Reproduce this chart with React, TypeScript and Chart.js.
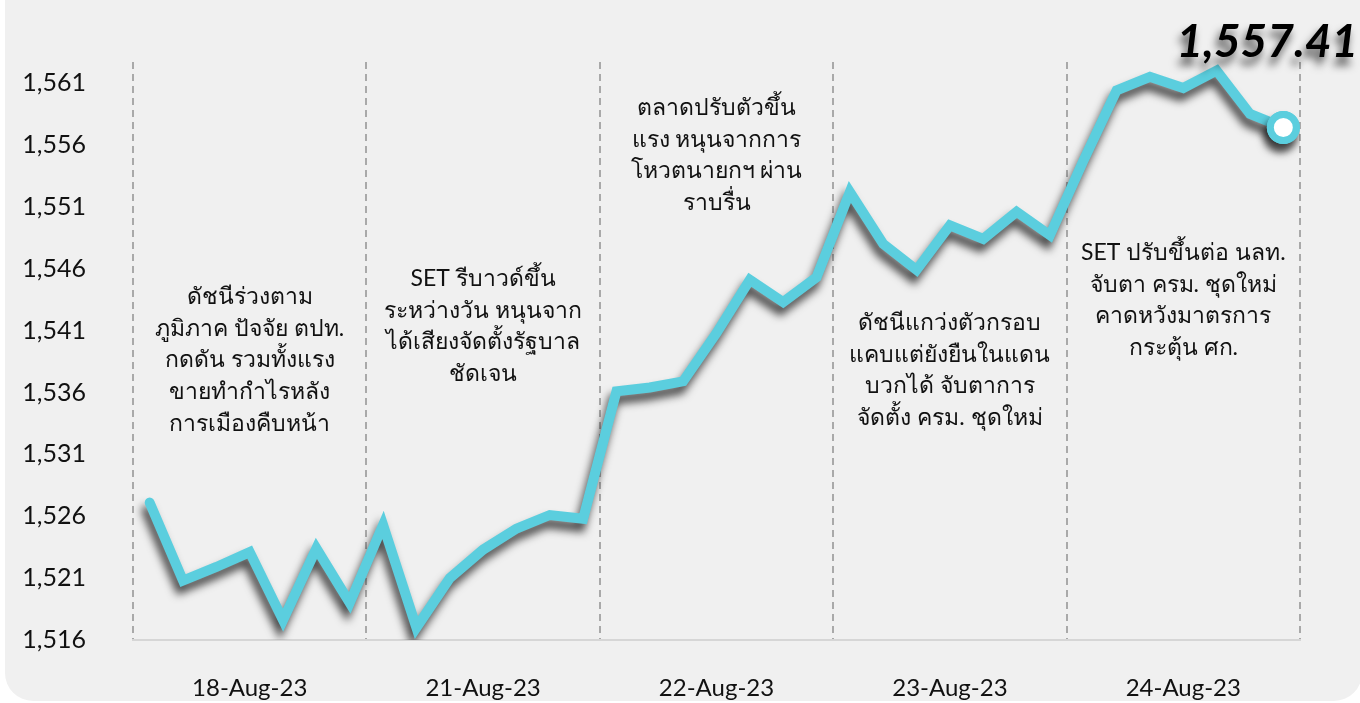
import { useEffect, useRef } from 'react';
import { Chart, registerables } from 'chart.js';

Chart.register(...registerables);

const days = ['18-Aug-23', '21-Aug-23', '22-Aug-23', '23-Aug-23', '24-Aug-23'];
const pointsPerDay = 7;
const setIndex = [
  1527.1, 1520.8, 1521.9, 1523.1, 1517.6, 1523.4, 1519.0,
  1525.3, 1517.0, 1521.0, 1523.3, 1525.0, 1526.1, 1525.8,
  1536.1, 1536.4, 1536.9, 1540.8, 1545.1, 1543.3, 1545.3,
  1552.2, 1548.0, 1545.9, 1549.5, 1548.4, 1550.6, 1548.7,
  1554.7, 1560.4, 1561.5, 1560.6, 1562.0, 1558.5, 1557.41,
];
const yTicks = [1516, 1521, 1526, 1531, 1536, 1541, 1546, 1551, 1556, 1561];
const lastLabel = '1,557.41';
const notes = [
  ['ดัชนีร่วงตาม', 'ภูมิภาค ปัจจัย ตปท.', 'กดดัน รวมทั้งแรง', 'ขายทำกำไรหลัง', 'การเมืองคืบหน้า'],
  ['SET รีบาวด์ขึ้น', 'ระหว่างวัน หนุนจาก', 'ได้เสียงจัดตั้งรัฐบาล', 'ชัดเจน'],
  ['ตลาดปรับตัวขึ้น', 'แรง หนุนจากการ', 'โหวตนายกฯ ผ่าน', 'ราบรื่น'],
  ['ดัชนีแกว่งตัวกรอบ', 'แคบแต่ยังยืนในแดน', 'บวกได้ จับตาการ', 'จัดตั้ง ครม. ชุดใหม่'],
  ['SET ปรับขึ้นต่อ นลท.', 'จับตา ครม. ชุดใหม่', 'คาดหวังมาตรการ', 'กระตุ้น ศก.'],
];

// layout (pixel offsets of first note line below the chart-area top)
const noteTop = [235, 217, 46, 261, 191];
const FONT = "'Century Gothic', Lato, 'Noto Sans', sans-serif";
const LINE = 'rgb(91, 206, 222)';

export default function App() {
  const ref = useRef<HTMLCanvasElement>(null);

  useEffect(() => {
    document.body.style.margin = '0';
    const shadowPlugin = {
      id: 'lineShadow',
      beforeDatasetsDraw(chart: any) {
        const { ctx } = chart;
        ctx.save();
        ctx.shadowColor = 'rgba(0,0,0,0.7)';
        ctx.shadowBlur = 9;
        ctx.shadowOffsetX = -3;
        ctx.shadowOffsetY = 8;
      },
      afterDatasetsDraw(chart: any) {
        const { ctx } = chart;
        ctx.restore();
        // redraw the end marker on top without shadow
        const meta = chart.getDatasetMeta(0);
        const pt = meta.data[meta.data.length - 1];
        pt.draw(ctx, chart.chartArea);
      },
    };
    const notesPlugin = {
      id: 'notes',
      beforeDatasetsDraw(chart: any) {
        const { ctx, chartArea } = chart;
        const xs = chart.scales.x;
        ctx.save();
        ctx.fillStyle = '#111';
        ctx.font = `23px ${FONT}`;
        ctx.textAlign = 'center';
        ctx.textBaseline = 'alphabetic';
        notes.forEach((lines, d) => {
          const cx = xs.getPixelForValue(d);
          lines.forEach((t, i) => {
            ctx.fillText(t, cx, chartArea.top + noteTop[d] + i * 31.7 + 7);
          });
        });
        ctx.restore();
      },
      afterDatasetsDraw(chart: any) {
        const { ctx } = chart;
        const meta = chart.getDatasetMeta(0);
        const pt = meta.data[meta.data.length - 1];
        ctx.save();
        ctx.fillStyle = '#000';
        ctx.font = `italic bold 46px ${FONT}`;
        ctx.textAlign = 'center';
        ctx.textBaseline = 'alphabetic';
        ctx.fillText(lastLabel, pt.x - 16, pt.y - 70);
        ctx.restore();
      },
    };

    const last = setIndex.length - 1;
    const chart = new Chart(ref.current!, {
      type: 'line',
      data: {
        labels: days,
        datasets: [
          {
            data: setIndex.map((v, i) => ({ x: i + 0.5, y: v })),
            xAxisID: 'xd',
            yAxisID: 'y',
            borderColor: LINE,
            borderWidth: 10,
            borderCapStyle: 'round',
            borderJoinStyle: 'miter',
            tension: 0,
            pointRadius: (c: any) => (c.dataIndex === last ? 13 : 0),
            pointHoverRadius: 0,
            pointBackgroundColor: '#ffffff',
            pointBorderColor: LINE,
            pointBorderWidth: 7,
          },
        ],
      },
      options: {
        animation: false,
        responsive: false,
        devicePixelRatio: 1,
        layout: { padding: { top: 62, right: 60, left: 0, bottom: 0 } },
        plugins: { legend: { display: false }, tooltip: { enabled: false } },
        scales: {
          x: {
            type: 'category',
            labels: days,
            offset: true,
            grid: { offset: true, color: '#a9a9a9', lineWidth: 2, drawTicks: false },
            border: { display: true, color: '#d6d6d6', width: 2, dash: [7, 5] },
            ticks: { padding: 34, color: '#111', font: { family: FONT, size: 24 } },
            afterFit: (s: any) => {
              s.height = 63;
            },
          },
          xd: {
            type: 'linear',
            display: false,
            min: 0,
            max: days.length * pointsPerDay,
          },
          y: {
            min: 1516,
            max: 1562.7,
            grid: { display: false, drawTicks: false },
            border: { display: false },
            afterBuildTicks: (s: any) => {
              s.ticks = yTicks.map((v) => ({ value: v }));
            },
            ticks: {
              padding: 47,
              color: '#111',
              font: { family: FONT, size: 25 },
              callback: (v: any) => Number(v).toLocaleString('en-US'),
            },
            afterFit: (s: any) => {
              s.width = 133;
            },
          },
        },
      },
      plugins: [notesPlugin, shadowPlugin],
    } as any);
    return () => chart.destroy();
  }, []);

  return (
    <div style={{ position: 'relative', width: 1360, height: 703, overflow: 'hidden', background: '#ffffff' }}>
      <div
        style={{
          position: 'absolute',
          left: 5,
          top: -40,
          width: 1357,
          height: 741,
          background: '#f0f0f0',
          borderRadius: 28,
        }}
      />
      <canvas
        ref={ref}
        width={1360}
        height={703}
        style={{ position: 'absolute', left: 0, top: 0, width: 1360, height: 703 }}
      />
    </div>
  );
}
